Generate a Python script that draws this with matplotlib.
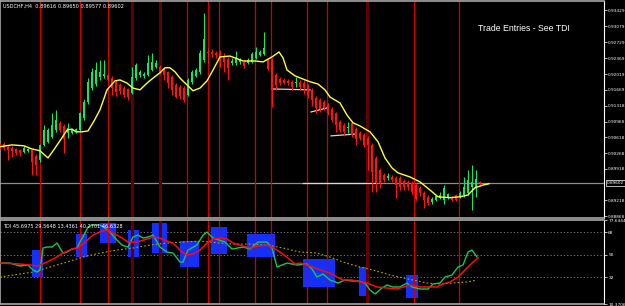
import matplotlib
matplotlib.use("Agg")
import matplotlib.pyplot as plt
from matplotlib.patches import Rectangle

# USDCHF H4 candles, one entry per bar
opens = [0.9045, 0.9047, 0.9041, 0.9038, 0.9036, 0.9034, 0.9029, 0.9032, 0.9034, 0.9021,
         0.9012, 0.9045, 0.9052, 0.9063, 0.9078, 0.9094, 0.9087, 0.9072, 0.9072, 0.9074,
         0.9078, 0.9105, 0.9140, 0.9171, 0.9180, 0.9196, 0.9198, 0.9200, 0.9193, 0.9185,
         0.9178, 0.9171, 0.9169, 0.9160, 0.9193, 0.9200, 0.9198, 0.9200, 0.9211, 0.9218,
         0.9218, 0.9211, 0.9207, 0.9196, 0.9178, 0.9173, 0.9171, 0.9156, 0.9185, 0.9198,
         0.9207, 0.9233, 0.9251, 0.9251, 0.9249, 0.9249, 0.9240, 0.9235, 0.9227, 0.9227,
         0.9229, 0.9229, 0.9227, 0.9229, 0.9238, 0.9244, 0.9247, 0.9233, 0.9233, 0.9200,
         0.9191, 0.9189, 0.9187, 0.9185, 0.9182, 0.9185, 0.9182, 0.9178, 0.9167, 0.9149,
         0.9145, 0.9140, 0.9134, 0.9125, 0.9116, 0.9096, 0.9089, 0.9083, 0.9094, 0.9080,
         0.9072, 0.9067, 0.9060, 0.9045, 0.9016, 0.8990, 0.8979, 0.8972, 0.8974, 0.8972,
         0.8972, 0.8965, 0.8963, 0.8961, 0.8956, 0.8950, 0.8939, 0.8930, 0.8919, 0.8923,
         0.8928, 0.8923, 0.8928, 0.8930, 0.8934, 0.8930, 0.8934, 0.8939, 0.8952, 0.8952,
         0.8963]
highs = [0.9049, 0.9052, 0.9045, 0.9043, 0.9038, 0.9036, 0.9043, 0.9038, 0.9036, 0.9025,
         0.9047, 0.9089, 0.9083, 0.9116, 0.9123, 0.9098, 0.9092, 0.9094, 0.9080, 0.9083,
         0.9118, 0.9147, 0.9193, 0.9216, 0.9229, 0.9233, 0.9233, 0.9205, 0.9198, 0.9189,
         0.9182, 0.9176, 0.9171, 0.9218, 0.9227, 0.9211, 0.9207, 0.9244, 0.9249, 0.9233,
         0.9222, 0.9216, 0.9209, 0.9200, 0.9182, 0.9178, 0.9176, 0.9193, 0.9211, 0.9216,
         0.9255, 0.9337, 0.9260, 0.9258, 0.9253, 0.9255, 0.9249, 0.9240, 0.9238, 0.9253,
         0.9238, 0.9233, 0.9238, 0.9251, 0.9262, 0.9255, 0.9295, 0.9238, 0.9238, 0.9205,
         0.9196, 0.9193, 0.9191, 0.9189, 0.9196, 0.9189, 0.9189, 0.9180, 0.9171, 0.9154,
         0.9149, 0.9145, 0.9138, 0.9129, 0.9118, 0.9100, 0.9094, 0.9096, 0.9098, 0.9085,
         0.9076, 0.9072, 0.9065, 0.9049, 0.9021, 0.8994, 0.8983, 0.8983, 0.8979, 0.8976,
         0.8976, 0.8970, 0.8967, 0.8965, 0.8961, 0.8954, 0.8943, 0.8934, 0.8930, 0.8934,
         0.8941, 0.8956, 0.8939, 0.8932, 0.8936, 0.8943, 0.8974, 0.8990, 0.9001, 0.8990,
         0.8965]
lows = [0.9036, 0.9034, 0.9012, 0.9018, 0.9023, 0.9021, 0.9027, 0.9029, 0.8979, 0.8979,
        0.9007, 0.9043, 0.9049, 0.9061, 0.9074, 0.9074, 0.9027, 0.9061, 0.9069, 0.9072,
        0.9076, 0.9100, 0.9136, 0.9167, 0.9176, 0.9189, 0.9193, 0.9185, 0.9156, 0.9154,
        0.9158, 0.9151, 0.9145, 0.9158, 0.9189, 0.9196, 0.9193, 0.9198, 0.9209, 0.9216,
        0.9202, 0.9189, 0.9171, 0.9156, 0.9149, 0.9147, 0.9140, 0.9154, 0.9180, 0.9196,
        0.9202, 0.9229, 0.9227, 0.9240, 0.9238, 0.9218, 0.9207, 0.9189, 0.9222, 0.9222,
        0.9224, 0.9216, 0.9224, 0.9227, 0.9235, 0.9242, 0.9244, 0.9211, 0.9129, 0.9167,
        0.9178, 0.9180, 0.9178, 0.9167, 0.9173, 0.9167, 0.9158, 0.9149, 0.9131, 0.9116,
        0.9118, 0.9123, 0.9111, 0.9096, 0.9074, 0.9074, 0.9067, 0.9072, 0.9063, 0.9045,
        0.9056, 0.9041, 0.8990, 0.8941, 0.8941, 0.8950, 0.8963, 0.8967, 0.8963, 0.8928,
        0.8945, 0.8945, 0.8945, 0.8936, 0.8923, 0.8932, 0.8905, 0.8912, 0.8914, 0.8921,
        0.8925, 0.8914, 0.8925, 0.8921, 0.8921, 0.8928, 0.8930, 0.8934, 0.8901, 0.8930,
        0.8954]
closes = [0.9041, 0.9038, 0.9034, 0.9032, 0.9027, 0.9027, 0.9038, 0.9036, 0.9007, 0.9001,
          0.9045, 0.9078, 0.9078, 0.9089, 0.9100, 0.9078, 0.9058, 0.9083, 0.9078, 0.9080,
          0.9116, 0.9140, 0.9185, 0.9207, 0.9211, 0.9207, 0.9202, 0.9189, 0.9171, 0.9162,
          0.9165, 0.9156, 0.9151, 0.9196, 0.9222, 0.9207, 0.9202, 0.9227, 0.9229, 0.9227,
          0.9207, 0.9200, 0.9182, 0.9167, 0.9151, 0.9154, 0.9145, 0.9189, 0.9207, 0.9211,
          0.9249, 0.9280, 0.9248, 0.9247, 0.9244, 0.9238, 0.9229, 0.9216, 0.9231, 0.9238,
          0.9233, 0.9220, 0.9233, 0.9247, 0.9251, 0.9251, 0.9260, 0.9213, 0.9167, 0.9178,
          0.9182, 0.9182, 0.9182, 0.9173, 0.9185, 0.9173, 0.9171, 0.9156, 0.9145, 0.9127,
          0.9125, 0.9127, 0.9116, 0.9100, 0.9089, 0.9078, 0.9074, 0.9085, 0.9067, 0.9058,
          0.9060, 0.9045, 0.9045, 0.8985, 0.8961, 0.8961, 0.8967, 0.8976, 0.8967, 0.8956,
          0.8952, 0.8952, 0.8952, 0.8941, 0.8925, 0.8939, 0.8923, 0.8916, 0.8925, 0.8932,
          0.8934, 0.8950, 0.8936, 0.8923, 0.8923, 0.8939, 0.8952, 0.8967, 0.8963, 0.8970,
          0.8960]

# moving average (yellow), bar index / price
ma_idx = [0, 3, 6, 8, 10, 12, 13.75, 15.5, 16.75, 18, 19, 20.5, 22, 23.5, 25, 26.75, 28.75, 30,
          31.75, 33.25, 35, 36.75, 38.25, 40, 41.25, 42.5, 43.75, 45, 46.75, 48.25, 50, 51.75,
          53.25, 55, 57.5, 60.75, 63.75, 65.75, 68, 69.75, 70.75, 71.75, 73.75, 75.75, 77.5,
          79.5, 81.25, 82.5, 85, 86.75, 88.25, 90, 92.5, 94.5, 96.25, 98, 99.5, 102.5, 105,
          107.5, 109.5, 112.5, 115, 117, 118.75, 120.75, 122.25]
ma_val = [0.9041, 0.9045, 0.9043, 0.9036, 0.9032, 0.9016, 0.9038, 0.9061, 0.9078, 0.9080,
          0.9074, 0.9074, 0.9076, 0.9098, 0.9123, 0.9167, 0.9187, 0.9189, 0.9182, 0.9171,
          0.9167, 0.9182, 0.9193, 0.9205, 0.9216, 0.9216, 0.9207, 0.9193, 0.9178, 0.9165,
          0.9171, 0.9187, 0.9211, 0.9240, 0.9242, 0.9231, 0.9231, 0.9229, 0.9240, 0.9251,
          0.9238, 0.9211, 0.9198, 0.9191, 0.9185, 0.9180, 0.9167, 0.9151, 0.9138, 0.9111,
          0.9094, 0.9087, 0.9074, 0.9052, 0.9016, 0.8994, 0.8983, 0.8974, 0.8963, 0.8945,
          0.8930, 0.8928, 0.8930, 0.8934, 0.8950, 0.8956, 0.8959]

last_price = 0.89602
price_ticks = [0.93429, 0.93079, 0.92729, 0.92369, 0.92019, 0.91669, 0.91318,
               0.90968, 0.90618, 0.90268, 0.89918, 0.89218, 0.88868]

# short white support lines
lvl_x0 = [68, 77.75, 82.75, 75.75]
lvl_x1 = [77.5, 81.75, 88.75, 93.75]
lvl_y0 = [0.9169, 0.9118, 0.9065, 0.89602]
lvl_y1 = [0.9167, 0.9127, 0.9069, 0.89602]

# vertical entry markers (bar index)
vlines_all = [10, 20, 27, 46.75, 52, 54.75, 63.75, 67.75, 76.75, 81.75, 103.5, 114.75]
vlines_dark = [33, 40, 91.75]

# TDI: green price line, red signal line, yellow market base
tdi_g_x = [0, 2.5, 5, 7, 8.25, 9.25, 10, 10.75, 11.75, 13, 14.25, 15, 15.75, 16.75, 18, 19.25,
           20, 21.25, 22, 23, 25, 26.25, 27.5, 28.75, 30.5, 32, 33.25, 34.5, 35.75, 37, 38.25,
           40, 41.75, 43.25, 45, 45.75, 47, 49.25, 50.75, 51.75, 53.25, 56.25, 58, 60.75, 62.5,
           64.5, 66.75, 68, 69.25, 71.75, 74.25, 76.75, 78, 79.25, 80.75, 82.5, 84.5, 86.25, 88,
           89.5, 91.25, 92.5, 93.75, 95.5, 96.75, 98.25, 100, 101.75, 103, 105, 107, 108.25, 110,
           111.25, 113, 114.5, 115.75, 117, 118, 119.25]
tdi_g = [43.2, 43.2, 40.8, 41.6, 37.6, 36, 37.6, 55.2, 56, 56, 59.2, 55.2, 51.2, 52, 54.4, 55.2,
         60, 67.2, 72, 73.6, 73.6, 71.2, 68, 63.2, 57.6, 56, 64, 65.6, 63.2, 64, 65.6,
         56, 52, 51.2, 44, 44, 53.6, 57.6, 65.6, 68, 63.2, 60, 54.4, 56, 54.4,
         60, 60, 55.2, 40, 43.2, 41.6, 42.4, 38.4, 32, 34.4, 29.6, 27.2, 29.6, 28.8,
         28.8, 27.2, 21.6, 18.4, 23.2, 25.6, 24, 24, 27.2, 24, 22.4, 22.4, 26.4, 27.2,
         32, 33.6, 40, 41.6, 52, 53.6, 48]
tdi_r_x = [0, 5, 7.5, 9.25, 10, 11.75, 13.75, 15.75, 18, 19.5, 21.25, 23.25, 25.5, 26.75, 28.25,
           30.5, 32, 34.25, 36.75, 38.25, 40, 41.75, 43.25, 45.5, 46.75, 48.25, 50, 51.75, 53.25,
           55, 56.75, 58.25, 60.75, 62.5, 64.5, 66.75, 68, 70, 72, 73.75, 75, 76.75, 78.75, 80.75,
           82.5, 84.25, 85.75, 88, 90, 91.75, 94.25, 96.75, 99.25, 100.75, 102.5, 105, 109.25,
           110.75, 112.5, 114.5, 116.25, 118, 119.5]
tdi_r = [43.2, 42.4, 41.6, 40.8, 41.6, 44, 47.2, 51.2, 54.4, 55.2, 60, 65.6, 68.8, 69.6, 67.2,
         63.2, 60, 60, 62.4, 64, 63.2, 60.8, 59.2, 52, 49.6, 50.4, 53.6, 59.2, 62.4,
         63.2, 62.4, 59.2, 56.8, 55.2, 56.8, 57.6, 56, 52, 47.2, 42.4, 43.2, 41.6, 39.2, 36.8,
         35.2, 32, 29.6, 29.6, 28, 27.2, 24, 23.2, 22.4, 24, 25.6, 24, 24,
         26.4, 28, 32, 37.6, 43.2, 47.2]
tdi_y_x = [0, 3.25, 8.25, 12.5, 16.75, 20.75, 25, 29.25, 33.25, 37.5, 41.75, 45.75, 50, 55,
           58.25, 62.5, 66.75, 70.75, 75, 79.25, 82.5, 85.75, 90, 93.25, 97.5, 100.75, 103.25,
           106.75, 110, 113.25, 116.75, 119.25]
tdi_y = [32, 33.6, 36, 40, 44, 48, 51.2, 53.6, 55.2, 57.6, 59.2, 60, 60.8, 59.2,
         58.4, 58.4, 57.6, 55.2, 52, 51.2, 48, 44, 40, 37.6, 33.6, 31.2, 29.6,
         27.2, 26.4, 27.2, 28, 29.6]
tdi_ticks = [77.6444, 68, 50, 32, 10.3706]
tdi_levels = [68, 50, 32]

# blue entry boxes on the TDI window
box_x0 = [8, 19, 25, 32, 38, 45, 52.75, 61.75, 75.75, 89.75, 101.5]
box_x1 = [10.75, 21.75, 29, 34.75, 41.75, 49.75, 56.75, 68.75, 83.75, 91.75, 104.5]
box_top = [53.6, 66.4, 75.2, 69.6, 75.2, 60.8, 72, 66.4, 46.4, 40, 33.6]
box_bot = [32, 48, 59.2, 48, 51.2, 40, 50.4, 48, 24, 16.8, 15.2]

UP = "#1de26a"
DOWN = "#ff1212"

fig = plt.figure(figsize=(6.25, 3.06), dpi=100, facecolor="black")
ax = fig.add_axes([0, 0.2876, 0.9664, 0.7092])
tdi = fig.add_axes([0, 0.0065, 0.9664, 0.2745])

for a in (ax, tdi):
    a.set_facecolor("black")
    a.set_xlim(0, 151)
    a.set_xticks([])
    for s in ("top", "left", "bottom"):
        a.spines[s].set_color("#a8a8a8")
        a.spines[s].set_linewidth(1.2)
    a.spines["right"].set_color("white")
    a.spines["right"].set_linewidth(0.8)
    a.yaxis.tick_right()
    a.tick_params(axis="y", colors="white", labelsize=3.1, length=2, width=0.5, pad=1)
    for v in vlines_all:
        a.axvline(v, color="#d00000", lw=0.9, zorder=2)
    for v in vlines_dark:
        a.axvline(v, color="#600000", lw=2.2, zorder=2)

# main price window
ax.set_ylim(0.8883, 0.9364)
ax.set_yticks(price_ticks)
ax.set_yticklabels(["%.5f" % t for t in price_ticks])
ax.axhline(last_price, color="#8c8c8c", lw=0.9, zorder=1)
for x0, x1, y0, y1 in zip(lvl_x0, lvl_x1, lvl_y0, lvl_y1):
    ax.plot([x0, x1], [y0, y1], color="#d8d8d8", lw=0.9, zorder=3)

idx = list(range(len(opens)))
cols = [UP if c >= o else DOWN for o, c in zip(opens, closes)]
ax.vlines(idx, lows, highs, colors=cols, lw=0.8, zorder=4)
bottoms = [min(o, c) for o, c in zip(opens, closes)]
heights = [max(abs(c - o), 0.00012) for o, c in zip(opens, closes)]
ax.bar(idx, heights, bottom=bottoms, width=0.72, color=cols, lw=0, zorder=5)
ax.plot(ma_idx, ma_val, color="#ffff3a", lw=1.0, zorder=6)

ax.text(0.005, 0.985, "USDCHF,H4  0.89616 0.89650 0.89577 0.89602", transform=ax.transAxes,
        color="white", fontsize=3.6, va="top", ha="left")
ax.text(131, 0.9302, "Trade Entries - See TDI", color="white", fontsize=6.3,
        family="Liberation Sans", ha="center", va="center")
ax.annotate("%.5f" % last_price, xy=(1.004, last_price), xycoords=("axes fraction", "data"),
            color="white", fontsize=3.1, va="center", ha="left", annotation_clip=False,
            bbox=dict(boxstyle="square,pad=0.2", fc="black", ec="white", lw=0.5))

# TDI window
tdi.set_ylim(10.3706, 77.6444)
tdi.set_yticks(tdi_ticks)
tdi.set_yticklabels(["77.6444", "68", "50", "32", "10.3706"])
for lv in tdi_levels:
    tdi.axhline(lv, color="#8a8a8a", lw=0.6, ls=(0, (1.5, 2.5)), zorder=1)
for x0, x1, t, b in zip(box_x0, box_x1, box_top, box_bot):
    tdi.add_patch(Rectangle((x0, b), x1 - x0, t - b, color="#1430ff", lw=0, zorder=1.5))
tdi.plot(tdi_y_x, tdi_y, color="#b8a800", lw=0.8, ls=(0, (1.5, 2)), zorder=3)
tdi.plot(tdi_g_x, tdi_g, color="#12c850", lw=1.0, zorder=4)
tdi.plot(tdi_r_x, tdi_r, color="#ff0a0a", lw=1.1, zorder=5)
tdi.text(0.005, 0.95, "TDI 45.6975 29.5648 13.4361 40.2701 46.6328", transform=tdi.transAxes,
         color="white", fontsize=3.6, va="top", ha="left", zorder=7)

fig.savefig("out.png", dpi=100, facecolor="black")
